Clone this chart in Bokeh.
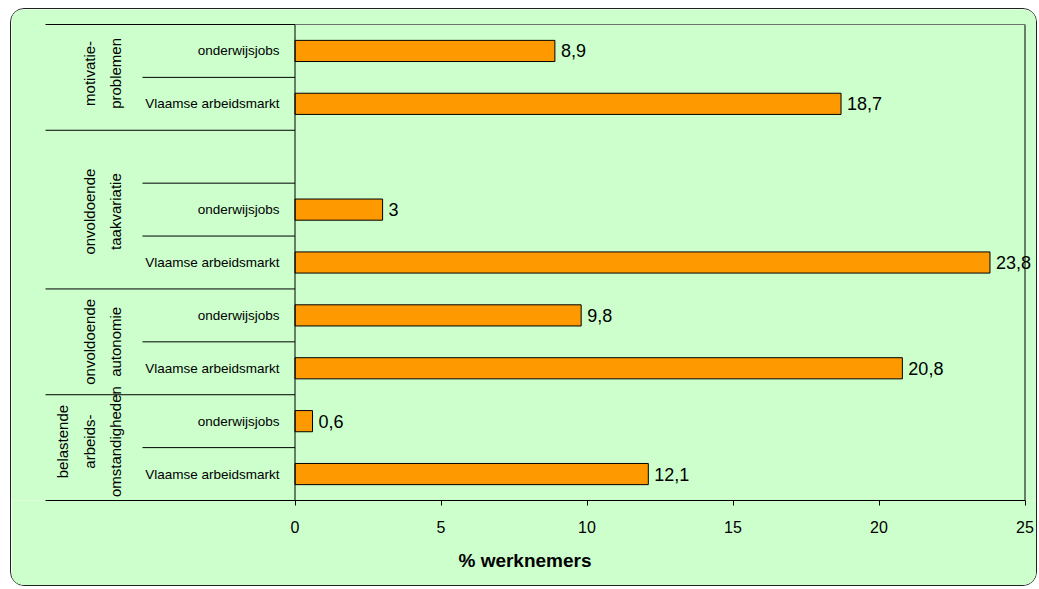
import math
from bokeh.plotting import figure
from bokeh.models import Range1d, FixedTicker, ColumnDataSource
from bokeh.core.properties import value
from bokeh.embed import file_html
from bokeh.resources import INLINE

# ---------------- data ----------------
group_lines = [["motivatie-", "problemen"],
               ["onvoldoende", "taakvariatie"],
               ["onvoldoende", "autonomie"],
               ["belastende", "arbeids-", "omstandigheden"]]
group_sizes = [2, 3, 2, 2]
sub_labels = ["onderwijsjobs", "Vlaamse arbeidsmarkt", "",
              "onderwijsjobs", "Vlaamse arbeidsmarkt",
              "onderwijsjobs", "Vlaamse arbeidsmarkt",
              "onderwijsjobs", "Vlaamse arbeidsmarkt"]
values = [8.9, 18.7, None, 3, 23.8, 9.8, 20.8, 0.6, 12.1]
x_ticks = [0, 5, 10, 15, 20, 25]
x_title = "% werknemers"

# ---------------- layout constants ----------------
ML, MT = 10, 8              # css margin of the chart box
CW, CH = 1027, 578          # canvas size
OX, OY = ML + 1, MT + 1     # page offset of canvas (margin + css border)
PX0, PX1 = 294.5, 1024.5    # page x of value 0 and 25
PY_TOP, PY_BOT = 24, 500    # page y of plot area top / bottom
XMAX = 25
NS = len(sub_labels)
GROUP_LABEL_SHIFT = [-4, 2, 0, -6]   # px nudges of the vertical group labels

ppu_x = (PX1 - PX0) / XMAX
x_start = -(PX0 - OX) / ppu_x
x_end = XMAX + (OX + CW - PX1) / ppu_x
ppu_y = (PY_BOT - PY_TOP) / NS
y_end = NS + (PY_TOP - OY) / ppu_y
frame_bottom = PY_BOT - OY


def cx(page_x):
    return (page_x - PX0) / ppu_x


FONT = "Liberation Sans"
BG = "#CCFFCC"

p = figure(width=CW, height=CH,
           x_range=Range1d(x_start, x_end), y_range=Range1d(0, y_end),
           output_backend="svg", toolbar_location=None, y_axis_location=None,
           min_border_left=0, min_border_right=0, min_border_top=0,
           min_border_bottom=CH - frame_bottom,
           background_fill_color=BG, border_fill_color=BG,
           outline_line_color=None)
p.styles = {"border": "1px solid #222222", "border-radius": "14px",
            "overflow": "hidden", "margin-left": f"{ML}px",
            "margin-top": f"{MT}px"}
p.xgrid.visible = False
p.ygrid.visible = False

ax = p.xaxis[0]
ax.ticker = FixedTicker(ticks=x_ticks)
ax.bounds = (cx(45), XMAX)
ax.axis_line_color = "black"
ax.major_tick_line_color = "black"
ax.minor_tick_line_color = None
ax.major_tick_in = 0
ax.major_tick_out = 5
ax.major_label_standoff = 15
ax.major_label_text_font = FONT
ax.major_label_text_font_size = "16px"
ax.major_label_text_color = "black"
ax.axis_label = x_title
ax.axis_label_text_font = FONT
ax.axis_label_text_font_size = "19px"
ax.axis_label_text_font_style = "bold"
ax.axis_label_text_color = "black"
ax.axis_label_standoff = 14

# slot positions (top slot first)
slot_y = [NS - i - 0.5 for i in range(NS)]

# bars
bar_y = [slot_y[i] for i, v in enumerate(values) if v is not None]
bar_v = [v for v in values if v is not None]
bar_lbl = [f"{v:g}".replace(".", ",") for v in bar_v]
src = ColumnDataSource(dict(y=bar_y, v=bar_v, lbl=bar_lbl))
p.hbar(y="y", left=0, right="v", height=0.4, source=src,
       fill_color="#FF9900", line_color="black", line_width=1)
p.text(x="v", y="y", text="lbl", source=src, x_offset=6,
       text_baseline="middle", text_align="left",
       text_font=value(FONT), text_font_size="18px", text_color="black")

# sub-category labels
sub_y = [slot_y[i] for i, s in enumerate(sub_labels) if s]
sub_t = [s for s in sub_labels if s]
p.text(x=[cx(279)] * len(sub_t), y=sub_y, text=sub_t,
       text_align="right", text_baseline="middle",
       text_font=value(FONT), text_font_size="13.5px",
       text_color="black")

# group labels + separators
gx, gy, gt, goff = [], [], [], []
outer_y = [NS]
inner_y = []
start = 0
for gi, (lines, n) in enumerate(zip(group_lines, group_sizes)):
    yc = NS - start - n / 2
    m = len(lines)
    for k, t in enumerate(lines):
        gx.append(cx(115 - (m - 1 - k) * 26.5))
        gy.append(yc)
        gt.append(t)
        goff.append(GROUP_LABEL_SHIFT[gi])
    for j in range(1, n):
        inner_y.append(NS - start - j)
    start += n
    outer_y.append(NS - start)

gsrc = ColumnDataSource(dict(x=gx, y=gy, t=gt, off=goff))
p.text(x="x", y="y", text="t", y_offset="off", source=gsrc,
       angle=math.pi / 2, text_align="center", text_baseline="middle",
       text_font=value(FONT), text_font_size="15px", text_color="black")

oy = [y for y in outer_y if y > 0]
p.segment(x0=[cx(45)] * len(oy), x1=[0] * len(oy), y0=oy, y1=oy,
          line_color="black", line_width=1)
p.segment(x0=[cx(142)] * len(inner_y), x1=[0] * len(inner_y), y0=inner_y,
          y1=inner_y, line_color="black", line_width=1)

# plot area frame: value axis, right border, top border
p.segment(x0=[0, XMAX], x1=[0, XMAX], y0=[0, 0], y1=[NS, NS],
          line_color="black", line_width=1)
p.segment(x0=[0], x1=[XMAX], y0=[NS], y1=[NS],
          line_color="#707070", line_width=1)

open("out.html", "w").write(file_html(p, INLINE))
